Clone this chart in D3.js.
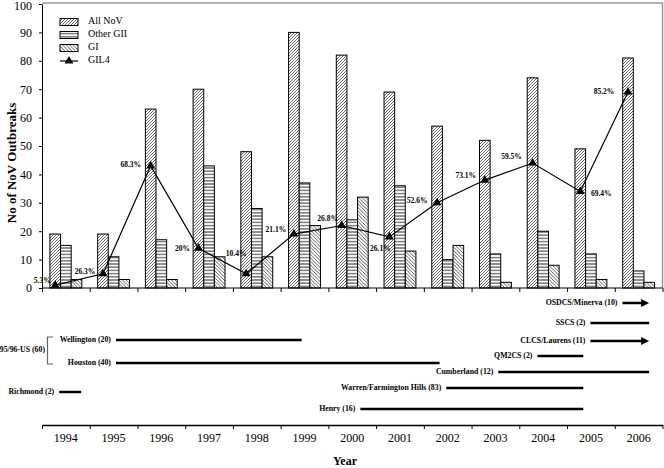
<!DOCTYPE html>
<html><head><meta charset="utf-8">
<script src="https://cdn.jsdelivr.net/npm/d3@7"></script>
<style>body{margin:0;background:#fff}svg{display:block}text{font-family:"Liberation Serif","Times New Roman",serif}</style>
</head><body><svg id="c" width="664" height="468"></svg>
<script>
const years = ["1994","1995","1996","1997","1998","1999","2000","2001","2002","2003","2004","2005","2006"];
const seriesNames = ["All NoV","Other GII","GI"];
const allNoV  = [19,19,63,70,48,90,82,69,57,52,74,49,81];
const otherGII = [15,11,17,43,28,37,24,36,10,12,20,12,6];
const gi      = [3,3,3,11,11,22,32,13,15,2,8,3,2];
const gil4    = [1,5,43,14,5,19,22,18,30,38,44,34,69];
const gil4Pct = ["5.3%","26.3%","68.3%","20%","10.4%","21.1%","26.8%","26.1%","52.6%","73.1%","59.5%","69.4%","85.2%"];
const yTicks = [0,10,20,30,40,50,60,70,80,90,100];
// strain timelines: name, start year (fractional), end year, ongoing arrow
const strainNames = ["OSDCS/Minerva (10)","SSCS (2)","CLCS/Laurens (11)","QM2CS (2)","Cumberland (12)","Warren/Farmington Hills (83)","Henry (16)","Wellington (20)","Houston (40)","Richmond (2)"];
const strainStart = [2006.16,2005.49,2005.49,2004.38,2003.56,2002.47,2000.67,1995.55,1995.55,1994.36];
const strainEnd   = [2006.72,2006.72,2006.72,2005.34,2006.72,2005.34,2005.34,1999.44,2002.33,1994.82];
const strainArrow = [true,false,true,false,false,false,false,false,false,false];

// ---- layout (not data) ----
const rowY = [303,323,341,356,372,388,409,340,363,392];
const labelOffsets = [[-13,-4],[-18,-2],[-20,-1],[-16,1],[-10,-20],[-18,-4],[-14,-6],[-9,12],[-20,-2],[-19,-4],[-21,-6],[21,3],[-24,0]];

const svg = d3.select("#c");
const L = 42, R = 662.5, T = 4, B = 288;
const x = d3.scaleBand().domain(years).range([L, R]).padding(0);
const xs = d3.scaleBand().domain(seriesNames).range([0, x.bandwidth()]).paddingInner(0).paddingOuter(0.745);
const y = d3.scaleLinear().domain([0,100]).range([B, T]);
const xt = d3.scaleLinear().domain([1994, 2007]).range([L, R]);

// patterns
const defs = svg.append("defs");
const p1 = defs.append("pattern").attr("id","pAll").attr("patternUnits","userSpaceOnUse").attr("width",3).attr("height",3);
p1.append("rect").attr("width",3).attr("height",3).attr("fill","#fff");
p1.append("path").attr("d","M-1,1 l2,-2 M0,3 l3,-3 M2,4 l2,-2").attr("stroke","#444").attr("stroke-width",0.8);
const p2 = defs.append("pattern").attr("id","pGII").attr("patternUnits","userSpaceOnUse").attr("width",4).attr("height",3.2);
p2.append("rect").attr("width",4).attr("height",3.2).attr("fill","#fff");
p2.append("line").attr("x1",0).attr("x2",4).attr("y1",1.6).attr("y2",1.6).attr("stroke","#333").attr("stroke-width",1);
const p3 = defs.append("pattern").attr("id","pGI").attr("patternUnits","userSpaceOnUse").attr("width",3.5).attr("height",3.5);
p3.append("rect").attr("width",3.5).attr("height",3.5).attr("fill","#fff");
p3.append("path").attr("d","M-1,2.5 l2,2 M0,0 l3.5,3.5 M2.5,-1 l2,2").attr("stroke","#333").attr("stroke-width",0.8);
const fills = {"All NoV":"url(#pAll)","Other GII":"url(#pGII)","GI":"url(#pGI)"};
const tri = d3.symbol().type(d3.symbolTriangle).size(34);

// frame
svg.append("path").attr("d",`M${L},${T-1}H${R}V${B}`).attr("fill","none").attr("stroke","#999").attr("stroke-width",1.5);

// bars
const rows = years.map((yr,i)=>({year:yr, vals:[allNoV[i],otherGII[i],gi[i]]}));
const g = svg.append("g");
rows.forEach(r=>{
  seriesNames.forEach((s,j)=>{
    g.append("rect").attr("x",x(r.year)+xs(s)).attr("y",y(r.vals[j]))
     .attr("width",xs.bandwidth()).attr("height",y(0)-y(r.vals[j]))
     .attr("fill",fills[s]).attr("stroke","#000").attr("stroke-width",1);
  });
});

// y axis
const ya = svg.append("g").attr("transform",`translate(${L},0)`)
  .call(d3.axisLeft(y).tickValues(yTicks).tickSize(3).tickPadding(7).tickSizeOuter(0));
ya.selectAll("text").attr("font-size",12).attr("font-family","Liberation Serif").attr("fill","#000");
ya.selectAll("line,path").attr("stroke","#000");
ya.selectAll(".tick").filter(d=>d===100).select("text").attr("dy","0.45em");
// top x axis
svg.append("line").attr("x1",L).attr("x2",R).attr("y1",B).attr("y2",B).attr("stroke","#000");
const xTop = svg.append("g").attr("transform",`translate(0,${B})`)
  .call(d3.axisBottom(xt).tickValues(d3.range(1994,2008)).tickSize(4).tickFormat(""));
xTop.select(".domain").remove();

// GIL4 line
const lx = (i)=>x(years[i])+xs("All NoV")+xs.bandwidth()/2;
svg.append("path").datum(gil4).attr("d",d3.line().x((d,i)=>lx(i)).y(d=>y(d)))
  .attr("fill","none").attr("stroke","#000").attr("stroke-width",1.2);
svg.selectAll(".tri").data(gil4).join("path").attr("d",tri)
  .attr("transform",(d,i)=>`translate(${lx(i)},${y(d)})`).attr("fill","#000");
svg.selectAll(".pct").data(gil4).join("text")
  .attr("x",(d,i)=>lx(i)+labelOffsets[i][0]).attr("y",(d,i)=>y(d)+labelOffsets[i][1])
  .attr("text-anchor","middle").attr("dominant-baseline","middle")
  .attr("font-size",7.5).attr("font-weight","bold").text((d,i)=>gil4Pct[i]);

// legend
const lg = svg.append("g");
const legendItems = ["All NoV","Other GII","GI","GIL4"];
legendItems.forEach((n,i)=>{
  const cy = 22 + i*13;
  if (n==="GIL4") {
    lg.append("line").attr("x1",60).attr("x2",78).attr("y1",cy).attr("y2",cy).attr("stroke","#000").attr("stroke-width",1.2);
    lg.append("path").attr("d",tri).attr("transform",`translate(69,${cy})`).attr("fill","#000");
  } else {
    lg.append("rect").attr("x",60).attr("y",cy-3.5).attr("width",18).attr("height",7).attr("fill",fills[n]).attr("stroke","#000");
  }
  lg.append("text").attr("x",88).attr("y",cy).attr("dominant-baseline","middle").attr("font-size",10).text(n);
});

// y title
svg.append("text").attr("transform","translate(13,163) rotate(-90)").attr("text-anchor","middle")
  .attr("dominant-baseline","middle").attr("font-size",13).attr("font-weight","bold").text("No of NoV Outbreaks");

// timeline
const axY = 425;
const xb = svg.append("g").attr("transform",`translate(0,${axY})`)
  .call(d3.axisBottom(xt).tickValues(d3.range(1994,2008)).tickSize(4).tickSizeOuter(0).tickFormat(""));
xb.select(".domain").attr("stroke","#000").attr("stroke-width",1.5);
svg.selectAll(".yl").data(years).join("text").attr("x",d=>x(d)+x.bandwidth()/2).attr("y",439)
  .attr("text-anchor","middle").attr("dominant-baseline","middle").attr("font-size",12).text(d=>d);
svg.append("text").attr("x",345).attr("y",462).attr("text-anchor","middle").attr("dominant-baseline","middle")
  .attr("font-size",12).attr("font-weight","bold").text("Year");

strainNames.forEach((n,i)=>{
  const x0 = xt(strainStart[i]), x1 = xt(strainEnd[i]), yy = rowY[i];
  const lineEnd = strainArrow[i] ? x1-7 : x1;
  svg.append("line").attr("x1",x0).attr("x2",lineEnd).attr("y1",yy).attr("y2",yy).attr("stroke","#000").attr("stroke-width",2.5);
  if (strainArrow[i]) svg.append("path").attr("d",`M${x1},${yy}L${x1-8},${yy-4}L${x1-8},${yy+4}Z`).attr("fill","#000");
  svg.append("text").attr("x",x0-5).attr("y",yy).attr("text-anchor","end").attr("dominant-baseline","middle")
    .attr("font-size",7.8).attr("font-weight","bold").text(n);
});
// bracket for 95/96-US
const by0 = rowY[7]-3, by1 = rowY[8]+1;
svg.append("path").attr("d",`M53,${by0}H47.5V${by1}H53`).attr("fill","none").attr("stroke","#666").attr("stroke-width",1.2);
svg.append("text").attr("x",45).attr("y",(by0+by1)/2).attr("text-anchor","end").attr("dominant-baseline","middle")
  .attr("font-size",7.8).attr("font-weight","bold").text("95/96-US (60)");
</script></body></html>
